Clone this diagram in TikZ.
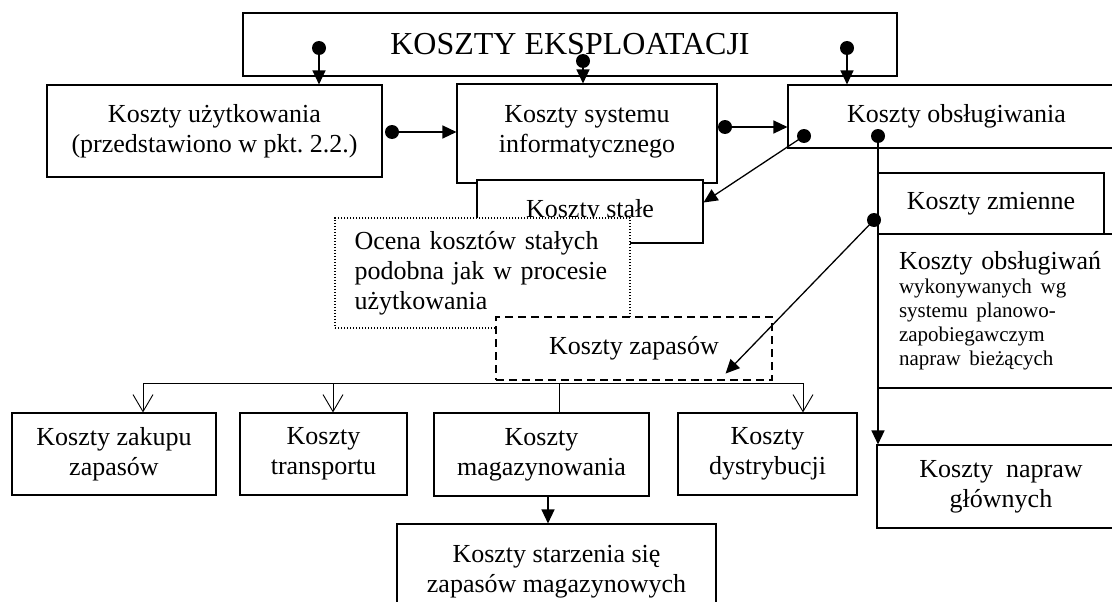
\documentclass[tikz,border=0pt]{standalone}
\usepackage{fontspec}
\setmainfont{Liberation Serif}
\usetikzlibrary{arrows.meta}
\frenchspacing

\begin{document}
\begin{tikzpicture}[x=1pt, y=-1pt,
	box/.style={draw, fill=white, line width=1.1pt, inner sep=0pt, align=center, font=\fontsize{26}{30}\selectfont},
	tri/.style={line width=1.3pt, -{Triangle[length=14pt,width=13pt]}},
	barb/.style={line width=0.9pt, -{Straight Barb[length=17pt,width=20pt,line width=0.9pt]}}]
	\useasboundingbox (0,0) rectangle (1112,602);
	\node[box, minimum width=654pt, minimum height=63pt, font=\fontsize{32}{36}\selectfont] (eksp) at (570,44.5) {KOSZTY EKSPLOATACJI};
	\node[box, minimum width=335pt, minimum height=92pt] (uzytk) at (214.5,131) {Koszty użytkowania\\(przedstawiono w pkt. 2.2.)};
	\node[box, minimum width=260pt, minimum height=99pt] (system) at (587,133.5) {Koszty systemu\\informatycznego\\[-20pt]};
	\node[box, minimum width=337pt, minimum height=63pt] (obsl) at (956.5,116.5) {Koszty obsługiwania};
	\node[box, minimum width=226pt, minimum height=63pt] (stale) at (590,211.5) {Koszty stałe};
	\node[box, dash pattern=on 1.2pt off 1.8pt, minimum width=295pt, minimum height=110pt, text width=256pt, align=left] (ocena) at (482.5,273) {Ocena kosztów stałych\\podobna jak w procesie\\użytkowania};
	\node[box, dash pattern=on 8pt off 5pt, minimum width=276pt, minimum height=63pt] (zapasy) at (634,348.5) {Koszty zapasów};
	\node[box, minimum width=226pt, minimum height=61pt] (zmienne) at (991,203.5) {Koszty zmienne};
	\node[box, minimum width=247pt, minimum height=154pt, text width=205pt, align=left] (obslugiwan) at (1001.5,311) {Koszty obsługiwań\par{\fontsize{21}{24}\selectfont wykonywanych wg\\systemu planowo-\\zapobiegawczym\\napraw bieżących\par}};
	\node[box, minimum width=248pt, minimum height=83pt] (napraw) at (1001,486.5) {Koszty~ napraw\\głównych};
	\node[box, minimum width=204pt, minimum height=82pt] (zakup) at (114,454) {Koszty zakupu\\zapasów};
	\node[box, minimum width=167pt, minimum height=82pt] (transport) at (323.5,454) {Koszty\\transportu};
	\node[box, minimum width=215pt, minimum height=83pt] (magazyn) at (541.5,454.5) {Koszty\\magazynowania};
	\node[box, minimum width=179pt, minimum height=82pt] (dystryb) at (767.5,454) {Koszty\\dystrybucji};
	\node[box, minimum width=319pt, minimum height=96pt] (starz) at (556.5,572) {Koszty starzenia się\\zapasów magazynowych};

	\coordinate (d1) at (319,48);
	\coordinate (d2) at (583,61);
	\coordinate (d3) at (847,48);
	\coordinate (d4) at (392,132);
	\coordinate (d5) at (725,127);
	\coordinate (d6) at (804,136);
	\coordinate (d7) at (878,136);
	\coordinate (d8) at (874,220);
	\coordinate (m1) at (548,496);
	\coordinate (busl) at (143,383);
	\coordinate (bust) at (333,383);
	\coordinate (busm) at (559,383);
	\coordinate (busr) at (803,383);

	\draw[tri] (d1) -- (d1 |- uzytk.north);
	\draw[tri] (d2) -- (d2 |- system.north);
	\draw[tri] (d3) -- (d3 |- obsl.north);
	\draw[tri] (d4) -- (d4 -| system.west);
	\draw[tri] (d5) -- (d5 -| obsl.west);
	\draw[tri] (d6) -- ([yshift=9pt]stale.east);
	\draw[tri] (d7) -- (d7 |- napraw.north);
	\draw[tri] (d8) -- ([shift={(-47pt,7pt)}]zapasy.south east);
	\draw[tri] (m1) -- (m1 |- starz.north);
	\foreach \d in {d1,d2,d3,d4,d5,d6,d7,d8} {
		\fill (\d) circle (7pt);
	}

	\draw[line width=0.9pt] (busl) -- (busr);
	\foreach \b/\n in {busl/zakup, bust/transport, busr/dystryb} {
		\draw[barb] (\b) -- (\b |- \n.north);
	}
	\draw[line width=0.9pt] (busm) -- (busm |- magazyn.north);
\end{tikzpicture}
\end{document}
